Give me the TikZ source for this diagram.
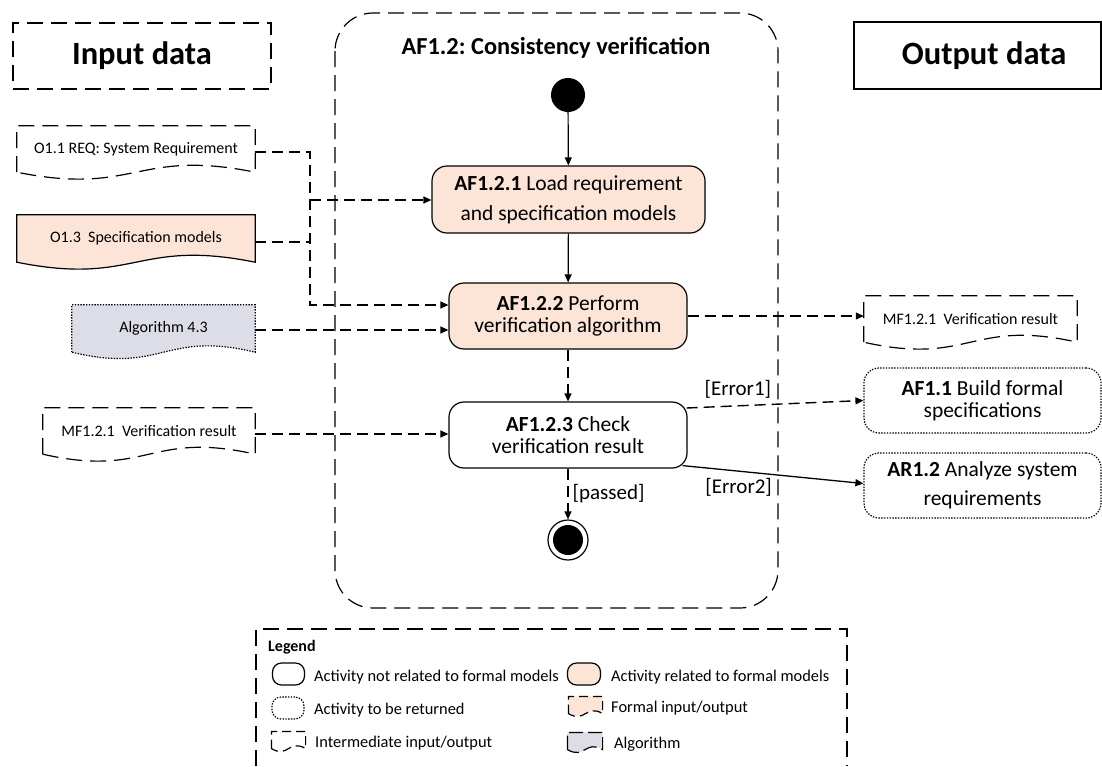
\documentclass[tikz,border=0pt]{standalone}
\usepackage{fontspec}
\setmainfont{Carlito}
\usetikzlibrary{arrows.meta,calc,backgrounds}
\definecolor{peach}{RGB}{252,228,214}
\definecolor{lav}{RGB}{221,221,232}
\frenchspacing
\newcommand\docshape[3][]{%
  \path[#1] (#2.south west) -- (#2.north west) -- (#2.north east) -- (#2.south east)
    .. controls ($(#2.south)+(0,-#3)$) and ($(#2.south)+(0,#3)$) .. (#2.south west) -- cycle;}
\begin{document}
\begin{tikzpicture}[x=1pt,y=-1pt,
  lw/.style={line width=1.2pt},
  longdash/.style={dash pattern=on 16pt off 8pt},
  conndash/.style={dash pattern=on 11pt off 6pt},
  dots/.style={dash pattern=on 1.4pt off 1.4pt},
  arr/.style={-{Triangle[length=8pt,width=7pt]}},
  act/.style={draw, lw, rounded corners=15pt, align=center, inner sep=0pt, fill=white,
    font=\fontsize{21.5}{24}\selectfont},
  formal/.style={act, fill=peach},
  ret/.style={act, dots},
  doc/.style={inner sep=0pt, font=\fontsize{16}{19}\selectfont},
  head/.style={inner sep=0pt, font=\fontsize{32.5}{36}\selectfont\bfseries},
  lbl/.style={font=\fontsize{21}{24}\selectfont},
  leg/.style={anchor=west, inner sep=0pt, font=\fontsize{16.4}{19}\selectfont},
  legsym/.style={lw, inner sep=0pt}
]
\useasboundingbox (0,0) rectangle (1102,766);

% container
\draw[lw, longdash, rounded corners=38pt] (335,13) rectangle (778,608);
\node[inner sep=0pt, font=\fontsize{24.4}{28}\selectfont\bfseries] (title) at (556,48) {AF1.2: Consistency verification};

% headers
\node[head, draw, lw, longdash, minimum width=258pt, minimum height=66pt] (inp) at (142,56) {Input data};
\node[head, draw, lw, minimum width=247pt, minimum height=67pt] (outp) at (977.5,55.5) {\hspace*{13pt}Output data};

% activities
\node[circle, fill=black, minimum size=34pt, inner sep=0pt] (start) at (568,95) {};
\node[formal, minimum width=273pt, minimum height=67pt, font=\fontsize{21.5}{30}\selectfont] (a1) at (568.5,199.5) {\textbf{AF1.2.1} Load requirement\\and specification models};
\node[formal, minimum width=238pt, minimum height=66pt, font=\fontsize{21.5}{22}\selectfont] (a2) at (568,316) {\textbf{AF1.2.2} Perform\\verification algorithm};
\node[act, minimum width=238pt, minimum height=66pt, font=\fontsize{21.5}{22}\selectfont] (a3) at (568,435) {\textbf{AF1.2.3} Check\\verification result};
\node[circle, draw, lw, minimum size=40pt, inner sep=0pt] (fin) at (568,540) {};
\node[circle, fill=black, minimum size=30pt, inner sep=0pt] (fincore) at (fin) {};

% inputs / outputs (document shapes)
\node[doc, minimum width=238pt, minimum height=46pt] (o11) at (136,149) {O1.1 REQ: System Requirement};
\node[doc, minimum width=238pt, minimum height=47pt] (o13) at (136,238.5) {O1.3\ \ Specification models};
\node[doc, minimum width=183pt, minimum height=47pt] (alg) at (163.5,328.5) {Algorithm 4.3};
\node[doc, minimum width=212pt, minimum height=46pt] (mfl) at (149,431) {MF1.2.1\ \ Verification result};
\node[doc, minimum width=213pt, minimum height=46pt] (mfr) at (970.5,319) {MF1.2.1\ \ Verification result};

% activities to be returned
\node[ret, minimum width=237pt, minimum height=65pt, font=\fontsize{21.5}{22}\selectfont] (af11) at (982.5,400.5) {\textbf{AF1.1} Build formal\\specifications};
\node[ret, minimum width=237pt, minimum height=65pt, font=\fontsize{21.5}{29}\selectfont] (ar12) at (982.5,485.5) {\textbf{AR1.2} Analyze system\\requirements};

% legend
\draw[lw, longdash] (256,766) -- (256,629) -- (847,629) -- (847,766);
\node[leg, font=\fontsize{16}{19}\selectfont\bfseries] (legt) at (268,647) {Legend};
\node[legsym, draw, rounded corners=9pt, minimum width=32pt, minimum height=22pt] (lg1) at (288.5,674) {};
\node[leg] (lt1) at (314,677) {Activity not related to formal models};
\node[legsym, draw, fill=peach, rounded corners=9pt, minimum width=33pt, minimum height=22pt] (lg2) at (584,674) {};
\node[leg] (lt2) at (611,677) {Activity related to formal models};
\node[legsym, draw, dots, rounded corners=9pt, minimum width=32pt, minimum height=22pt] (lg3) at (288,708) {};
\node[leg] (lt3) at (314,710) {Activity to be returned};
\node[legsym, minimum width=33pt, minimum height=16pt] (lg4) at (585.5,705) {};
\node[leg] (lt4) at (611,708) {Formal input/output};
\node[legsym, minimum width=33pt, minimum height=16pt] (lg5) at (288.5,740) {};
\node[leg] (lt5) at (315,743) {Intermediate input/output};
\node[legsym, minimum width=34pt, minimum height=16pt] (lg6) at (585,741) {};
\node[leg] (lt6) at (614,744) {Algorithm};

% document outlines on background
\begin{scope}[on background layer]
  \docshape[draw, lw, longdash, fill=white]{o11}{24}
  \docshape[draw, lw, fill=peach]{o13}{24}
  \docshape[draw, lw, dots, fill=lav]{alg}{22}
  \docshape[draw, lw, longdash, fill=white]{mfl}{24}
  \docshape[draw, lw, longdash, fill=white]{mfr}{24}
  \docshape[draw, lw, dash pattern=on 9pt off 5pt, fill=peach]{lg4}{10}
  \docshape[draw, lw, dash pattern=on 9pt off 5pt, fill=white]{lg5}{10}
  \docshape[draw, lw, dash pattern=on 14pt off 5pt, fill=lav]{lg6}{10}
\end{scope}

% junction column and ports
\coordinate (jx) at (310,0);
\coordinate (a1in) at ([yshift=-0.5pt]a1.west);
\coordinate (a2in) at ([yshift=11pt]a2.west);

% connectors
\draw[lw, arr] (start) -- (a1);
\draw[lw, arr] (a1) -- (a2);
\draw[lw, conndash, arr] (a2) -- (a3);
\draw[lw, conndash, arr] (a3) -- (fin) node[midway, right, lbl, inner sep=4pt] {[passed]};

\draw[lw, conndash, arr] ([yshift=-3pt]o11.east) -| (jx |- a2in) -- (a2in);
\draw[lw, conndash, arr] (jx |- a1in) -- (a1in);
\draw[lw, conndash] ([yshift=-3.5pt]o13.east) -- ([yshift=-3.5pt]o13.east -| jx);
\draw[lw, conndash, arr] ([yshift=-1.5pt]alg.east) -- ([yshift=-1.5pt]alg.east -| a2.west);
\draw[lw, conndash, arr] ([yshift=-3pt]mfl.east) -- ([yshift=-3pt]mfl.east -| a3.west);

\draw[lw, conndash, arr] (a2.east) -- (a2.east -| mfr.west);
\draw[line width=1.4pt, conndash, arr] ([yshift=27pt, xshift=-1pt]a3.east) -- (af11.west)
  node[pos=0.29, above, lbl, inner sep=3pt, yshift=4pt] {[Error1]};
\draw[line width=1.3pt, arr] ([xshift=-5pt, yshift=3pt]a3.south east) -- ([yshift=2pt]ar12.west)
  node[pos=0.31, below, lbl, inner sep=3pt, yshift=-4pt] {[Error2]};
\end{tikzpicture}
\end{document}
